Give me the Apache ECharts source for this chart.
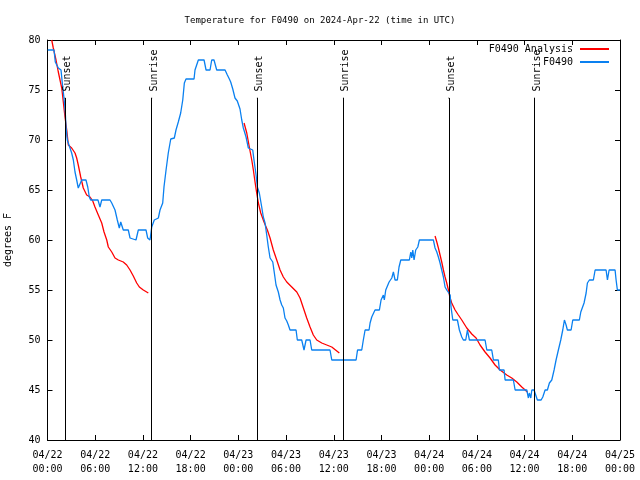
<!DOCTYPE html>
<html>
<head>
<meta charset="utf-8">
<script src="https://cdn.jsdelivr.net/npm/echarts@6/dist/echarts.min.js"></script>
<style>html,body{margin:0;padding:0;background:#fff}#c{width:640px;height:480px}</style>
</head>
<body>
<div id="c"></div>
<script>
// Hours since 2024-04-22 00:00 UTC
const obsHours = [0.03,0.82,0.98,1.36,1.70,1.86,1.99,2.16,2.24,2.33,2.49,3.04,3.25,3.46,3.67,3.87,4.09,4.30,4.84,5.06,5.26,5.43,6.35,6.60,6.82,7.86,8.08,8.49,8.78,9.03,9.21,9.53,10.16,10.38,10.59,11.13,11.42,12.39,12.60,12.89,13.11,13.43,13.94,14.15,14.49,14.65,14.91,15.19,15.50,15.95,16.16,16.45,16.75,17.01,17.21,17.42,18.43,18.55,18.97,19.69,19.94,20.44,20.65,20.94,21.28,22.33,22.62,22.87,23.04,23.30,23.58,23.87,24.21,24.43,24.63,24.97,25.26,25.81,25.97,26.23,26.39,26.64,26.94,27.14,27.36,27.57,27.77,27.99,28.33,28.53,28.74,29.03,29.25,29.46,29.66,29.87,30.09,30.29,30.50,31.26,31.42,31.97,32.26,32.52,33.02,33.23,35.53,35.75,38.81,38.99,39.52,39.72,39.94,40.44,40.57,40.78,41.19,41.74,41.95,42.24,42.36,42.54,42.79,42.96,43.30,43.50,43.71,44.00,44.21,44.43,45.51,45.69,45.81,45.94,46.10,46.31,46.57,46.77,48.53,48.74,48.96,49.16,49.37,49.58,49.79,50.00,50.21,50.42,50.64,50.75,50.97,51.55,51.80,52.10,52.30,52.60,52.81,53.06,55.03,55.25,55.87,56.08,56.70,56.83,57.42,57.55,58.59,58.81,60.28,60.48,60.60,60.78,60.91,61.19,61.40,61.61,62.08,62.29,62.58,62.87,63.12,63.42,63.71,63.96,64.25,64.55,64.80,65.01,65.22,65.38,65.85,66.06,66.89,67.07,67.32,67.48,67.74,67.90,68.15,68.65,68.87,70.25,70.42,70.63,71.38,71.51,71.67,72.00];
const obsTemps = [79,79,77.8,77.2,77,75.7,74.8,73.5,72.7,71.3,70,68.7,68,66.8,66,65.2,65,66,66,65.3,64.3,64,64,63.3,64,64,63.7,63,62,61.2,61.8,61,61,60.2,60,60,61,61,60.2,60,61.3,62,62.2,63,63.7,65.3,67,68.7,70.1,70.2,71,71.8,72.7,74,75.7,76.1,76.1,77,78,78,77,77,78,78,77,77,76.5,76.1,75.8,75.1,74.2,73.9,73.1,72,71.2,70.3,69.2,69,68,66.5,65.3,64.7,63.3,62.3,61.7,60.5,59.3,58.2,57.8,56.7,55.5,54.8,54,53.5,53.2,52.2,51.9,51.5,51,51,50,50,49,50,50,49,49,48,48,49,49,50,51,51,51.7,52.3,53,53,54,54.5,54,55,55,55.8,56.2,56.8,56,56,57.3,58,58,58.8,58.2,59,58,59,59.3,60,60,59.2,58.8,58.3,57.7,57,56.3,55.3,55,55,54.5,53.3,52,52,51,50.3,50,50,51,50,50,49,49,48,48,47,47,46,46,45,45,44.2,44.7,44.2,45,45,44.5,44,44,44.3,45,45,45.7,46,47,48,49,50,51,52,51.5,51,51,52,52,52.8,53,53.7,54.7,55.7,56,56,57,57,56,57,57,56,55,55];

const anaHours1 = [0.53,0.73,1.07,1.36,1.79,1.99,2.20,2.42,2.62,3.04,3.46,3.67,3.87,4.18,4.50,4.93,5.35,5.69,5.97,6.39,6.82,7.11,7.45,7.65,8.08,8.49,8.91,9.53,9.96,10.38,10.79,11.22,11.55,12.05,12.68];
const anaTemps1 = [80,79.2,78,76.8,75.2,73.8,72.3,71,69.5,69.2,68.7,68.2,67.5,66.3,65.2,64.5,64.3,63.9,63.3,62.5,61.7,60.8,60,59.3,58.8,58.2,58,57.8,57.5,57,56.4,55.7,55.3,55,54.7];
const anaHours2 = [24.72,25.06,25.38,25.69,25.89,26.10,26.31,26.52,26.82,27.23,27.65,27.99,28.40,28.83,29.25,29.66,30.09,30.72,31.35,31.76,32.18,32.60,33.02,33.43,33.86,34.49,35.12,35.75,36.70];
const anaTemps2 = [71.7,70.7,69.3,68,67,65.8,64.7,63.7,62.7,61.8,61,60.2,59,58,57,56.3,55.8,55.3,54.8,54.2,53.2,52.2,51.3,50.5,50,49.7,49.5,49.3,48.7];
const anaHours3 = [48.74,48.96,49.16,49.37,49.58,49.79,50.00,50.21,50.42,50.63,50.84,51.26,51.67,52.10,52.73,53.36,53.90,54.40,55.03,55.66,56.29,56.92,57.76,58.39,59.02,59.65,60.35];
const anaTemps3 = [60.4,59.8,59.2,58.5,57.8,57,56.3,55.7,55,54.2,53.7,53,52.5,52,51.2,50.6,50.2,49.5,48.8,48.2,47.5,47,46.5,46.2,45.8,45.3,44.8];

const sunHours = [2.20, 13.11, 26.39, 37.21, 50.47, 61.24];
const sunLabels = ['Sunset','Sunrise','Sunset','Sunrise','Sunset','Sunrise'];

const baseUTC = Date.UTC(2024, 3, 22, 0, 0);
const FONT = '"DejaVu Sans Mono", monospace';
const RED = '#ff0000', BLUE = '#0a80f0';
const LINE_TOP = 74.2;

function pad(n){ return (n < 10 ? '0' : '') + n; }
function fmtHour(h){
  const d = new Date(baseUTC + h * 3600000);
  return pad(d.getUTCMonth()+1) + '/' + pad(d.getUTCDate()) + '\n' + pad(d.getUTCHours()) + ':' + pad(d.getUTCMinutes());
}
const zip = (a, b) => a.map((v, i) => [v, b[i]]);

const chart = echarts.init(document.getElementById('c'), null, {renderer: 'canvas'});
const axisCommon = {
  axisLine: {show: true, onZero: false, lineStyle: {color: '#000', width: 1}},
  axisTick: {show: true, inside: true, length: 5, lineStyle: {color: '#000'}},
  splitLine: {show: false}
};
chart.setOption({
  animation: false,
  backgroundColor: '#fff',
  textStyle: {fontFamily: FONT},
  title: {text: 'Temperature for F0490 on 2024-Apr-22 (time in UTC)', left: 'center', top: 11,
    textStyle: {fontFamily: FONT, fontSize: 9, fontWeight: 'normal', color: '#000'}},
  grid: {left: 47.5, right: 20, top: 40, bottom: 40, outerBoundsMode: 'none', containLabel: false},
  legend: [
    {data: ['F0490 Analysis'], right: 26, top: 39, orient: 'vertical', align: 'right', itemWidth: 29, itemHeight: 2, icon: 'rect',
      textStyle: {fontFamily: FONT, fontSize: 10, color: '#000', padding: [0, 2, 0, 0]}},
    {data: ['F0490'], right: 26, top: 52, orient: 'vertical', align: 'right', itemWidth: 29, itemHeight: 2, icon: 'rect',
      textStyle: {fontFamily: FONT, fontSize: 10, color: '#000', padding: [0, 2, 0, 0]}}
  ],
  xAxis: [
    Object.assign({type: 'value', min: 0, max: 72, interval: 6, position: 'bottom',
      axisLabel: {formatter: fmtHour, fontFamily: FONT, fontSize: 10, color: '#000', margin: 8, lineHeight: 14}}, axisCommon),
    Object.assign({type: 'value', min: 0, max: 72, interval: 6, position: 'top',
      axisLabel: {show: false}}, axisCommon)
  ],
  yAxis: [
    Object.assign({type: 'value', min: 40, max: 80, interval: 5, position: 'left',
      name: 'degrees F', nameLocation: 'middle', nameGap: 34, nameRotate: 90,
      nameTextStyle: {fontFamily: FONT, fontSize: 10, color: '#000'},
      axisLabel: {fontFamily: FONT, fontSize: 10, color: '#000', margin: 7}}, axisCommon),
    Object.assign({type: 'value', min: 40, max: 80, interval: 5, position: 'right',
      axisLabel: {show: false}}, axisCommon)
  ],
  series: [
    {name: 'F0490 Analysis', type: 'line', data: zip(anaHours1, anaTemps1), showSymbol: false, symbol: 'none',
      lineStyle: {color: RED, width: 1.3}, itemStyle: {color: RED}, z: 3},
    {name: 'F0490 Analysis', type: 'line', data: zip(anaHours2, anaTemps2), showSymbol: false, symbol: 'none',
      lineStyle: {color: RED, width: 1.3}, itemStyle: {color: RED}, z: 3},
    {name: 'F0490 Analysis', type: 'line', data: zip(anaHours3, anaTemps3), showSymbol: false, symbol: 'none',
      lineStyle: {color: RED, width: 1.3}, itemStyle: {color: RED}, z: 3},
    {name: 'F0490', type: 'line', data: zip(obsHours, obsTemps), showSymbol: false, symbol: 'none',
      lineStyle: {color: BLUE, width: 1.3}, itemStyle: {color: BLUE}, z: 4},
    {name: 'sun', type: 'scatter', symbolSize: 1, itemStyle: {color: '#000', opacity: 1}, z: 5,
      data: sunHours.map((h, i) => ({value: [h, LINE_TOP], label: {formatter: sunLabels[i]}})),
      label: {show: true, rotate: 90, position: [3, -6], align: 'left', verticalAlign: 'middle',
        fontFamily: FONT, fontSize: 10, color: '#000', opacity: 1, textBorderWidth: 0, textShadowBlur: 0},
      markLine: {symbol: 'none', silent: true, label: {show: false},
        lineStyle: {color: '#000', width: 1, type: 'solid'},
        data: sunHours.map(h => [{coord: [h, 40]}, {coord: [h, LINE_TOP]}])}
    }
  ]
});
</script>
</body>
</html>
